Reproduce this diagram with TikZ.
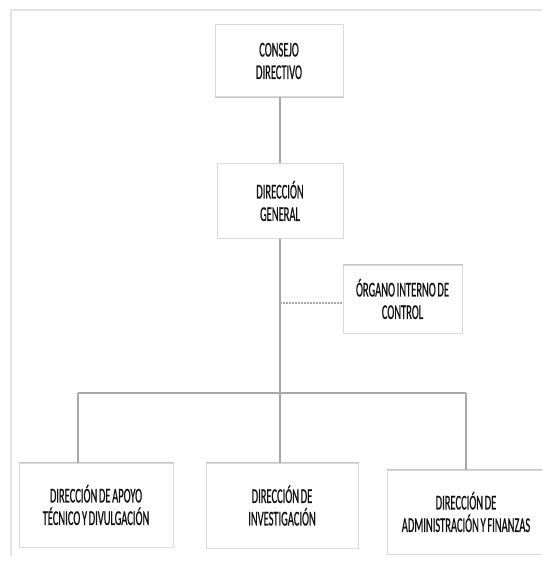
\documentclass[tikz,border=0pt]{standalone}
\usepackage{fontspec}
\setmainfont[FakeStretch=0.5,FakeBold=0.6,WordSpace=0.7]{Carlito}
\definecolor{frameg}{HTML}{E4E4E4}
\definecolor{boxg}{HTML}{DADADA}
\definecolor{edgeg}{HTML}{C4C4C4}
\definecolor{lineg}{HTML}{A8A8A8}
\definecolor{txt}{HTML}{111111}
\begin{document}
\begin{tikzpicture}[x=1pt,y=-1pt,
  unit/.style={draw=boxg, line width=1pt, fill=white, align=center, text=txt,
    font=\fontsize{21}{22.5}\selectfont, inner sep=0pt,
    append after command={
      \pgfextra{\draw[edgeg, line width=1.2pt]
        (\tikzlastnode.north west) -- (\tikzlastnode.north east)
        (\tikzlastnode.south west) -- (\tikzlastnode.south east);}}},
  conn/.style={draw=lineg, line width=1.3pt},
  dots/.style={draw=lineg, line width=2pt, dash pattern=on 1.5pt off 1.5pt}]
\useasboundingbox (0,0) rectangle (542,561);
\clip (0,0) rectangle (542,561);
% frame
\draw[frameg, line width=1.5pt] (542,10) -- (11,10) -- (11,556);
% boxes
\node[unit, minimum width=128pt, minimum height=72pt] (cd) at (279,61) {CONSEJO\\DIRECTIVO};
\node[unit, minimum width=126pt, minimum height=74pt] (dg) at (280,201) {DIRECCIÓN\\GENERAL};
\node[unit, minimum width=119pt, minimum height=68pt] (oic) at (402.5,299) {ÓRGANO INTERNO DE\\CONTROL};
\node[unit, minimum width=154pt, minimum height=84pt] (dat) at (96,505) {DIRECCIÓN DE APOYO\\TÉCNICO Y DIVULGACIÓN};
\node[unit, minimum width=152pt, minimum height=85pt] (di) at (282,505.5) {DIRECCIÓN DE\\INVESTIGACIÓN};
\node[unit, minimum width=158pt, minimum height=84pt] (daf) at (466,512) {DIRECCIÓN DE\\ADMINISTRACIÓN Y FINANZAS};
% connectors
\coordinate (bus) at (280,393);
\coordinate (busL) at (78,393);
\coordinate (busR) at (466,393);
\coordinate (tap) at (280,303);
\draw[conn] (cd.south -| bus) -- (dg.north -| bus);
\draw[conn] (dg.south -| bus) -- (bus);
\draw[dots] (tap) -- (tap -| oic.west);
\draw[conn] (busL) -- (busR);
\draw[conn] (busL) -- (busL |- dat.north);
\draw[conn] (bus) -- (bus |- di.north);
\draw[conn] (busR) -- (busR |- daf.north);
\end{tikzpicture}
\end{document}
